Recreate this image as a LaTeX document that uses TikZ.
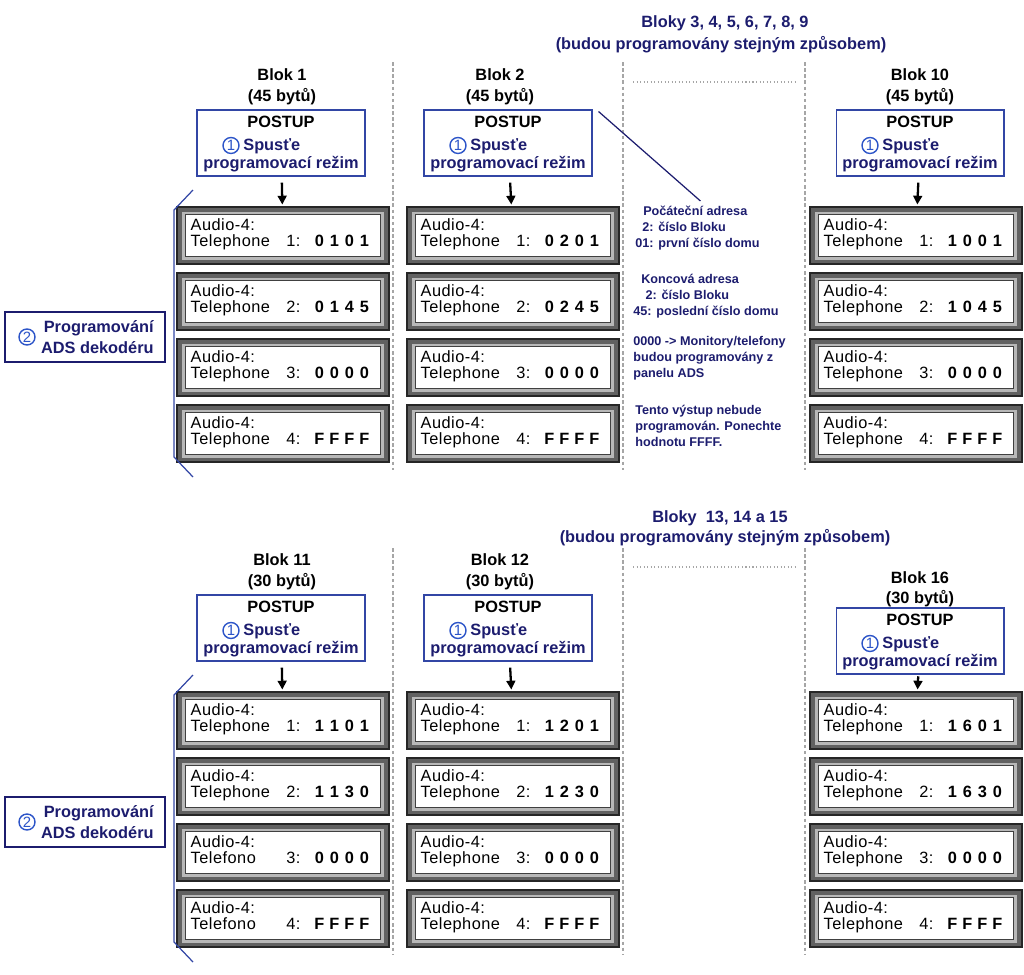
\documentclass[tikz,border=0pt]{standalone}
\usepackage{fontspec}
\setmainfont{Liberation Sans}
\usetikzlibrary{arrows.meta}

\definecolor{ink}{RGB}{28,28,110}
\definecolor{frame}{RGB}{50,70,165}
\definecolor{ring}{RGB}{45,85,200}

\tikzset{
  lcd/.style={draw=black!85, fill=black!62, line width=0.8pt, minimum width=4.24cm, minimum height=1.14cm, inner sep=0pt},
  lcdmid/.style={fill=black!28, minimum width=4.04cm, minimum height=0.96cm, inner sep=0pt},
  lcdin/.style={draw=black!75, fill=white, line width=0.7pt, minimum width=3.9cm, minimum height=0.84cm, inner sep=0pt},
  lcdtxt/.style={inner sep=0pt, font=\fontsize{9.3}{11}\selectfont\addfontfeature{LetterSpace=3}},
  lcdnum/.style={inner sep=0pt, font=\fontsize{9.3}{11}\selectfont\bfseries},
  postup/.style={draw=frame, line width=0.6pt, minimum width=3.36cm, minimum height=1.32cm, inner sep=0pt},
  head/.style={inner sep=0pt, font=\fontsize{9.3}{11}\selectfont\bfseries},
  title/.style={head, text=ink},
  ring/.style={circle, draw=ring, line width=0.8pt, text=ring, minimum size=0.32cm, inner sep=0pt, font=\fontsize{8.5}{9}\selectfont},
  note/.style={inner sep=0pt, text=ink, align=left, font=\fontsize{7.2}{9.1}\selectfont\bfseries},
  arr/.style={-{Triangle[length=5pt,width=5pt]}, line width=1.3pt},
  sep/.style={gray!70, dash pattern=on 2pt off 1.5pt, line width=0.6pt},
  dots/.style={gray!70, dash pattern=on 0.6pt off 1.4pt, line width=0.6pt},
  brace/.style={draw=frame, line width=0.7pt},
}

% display: name, x, top, label, number, four digits
\newcommand{\lcd}[9]{%
  \node[lcd] (#1) at (#2,#3+28.5) {};
  \node[lcdmid] at (#1.center) {};
  \node[lcdin] at (#1.center) {};
  \node[lcdtxt, anchor=base west] at ([shift={(14,24)}]#1.north west) {Audio-4:};
  \node[lcdtxt, anchor=base west] at ([shift={(14,40)}]#1.north west) {#4};
  \node[lcdtxt, anchor=base] at ([shift={(117,40)}]#1.north west) {#5:};
  \node[lcdnum, anchor=base] at ([shift={(143,40)}]#1.north west) {#6};
  \node[lcdnum, anchor=base] at ([shift={(158,40)}]#1.north west) {#7};
  \node[lcdnum, anchor=base] at ([shift={(173,40)}]#1.north west) {#8};
  \node[lcdnum, anchor=base] at ([shift={(188,40)}]#1.north west) {#9};
}

% POSTUP box: name, x, top
\newcommand{\postupbox}[3]{%
  \node[postup] (#1) at (#2,#3+33) {};
  \node[head, anchor=base] at ([shift={(0,18)}]#1.north) {POSTUP};
  \node[ring] at ([shift={(-50,36)}]#1.north) {1};
  \node[head, text=ink, anchor=base west] at ([shift={(-38,41)}]#1.north) {Spusťe};
  \node[head, text=ink, anchor=base] at ([shift={(0,59)}]#1.north) {programovací režim};
}

% step 2 box: name, top
\newcommand{\progbox}[2]{%
  \node[draw=ink, line width=0.6pt, minimum width=3.2cm, minimum height=1cm, inner sep=0pt] (#1) at (85,#2+25) {};
  \node[ring] at (27,#2+25) {2};
  \node[head, text=ink, align=right, anchor=east, font=\fontsize{9.3}{12}\selectfont\bfseries] at (154,#2+25) {Programování\\ADS dekodéru};
}

\begin{document}
\begin{tikzpicture}[x=0.02cm, y=-0.02cm]
\useasboundingbox (0,0) rectangle (1024,974);

% ---- upper half: blocks 1 to 10
\node[title] (t1) at (725,23) {Bloky 3, 4, 5, 6, 7, 8, 9};
\node[title] (t2) at (721,45) {(budou programovány stejným způsobem)};

\node[head] (b1) at (282,75) {Blok 1};
\node[head] (b1s) at (282,97) {(45 bytů)};
\node[head] (b2) at (500,75) {Blok 2};
\node[head] (b2s) at (500,97) {(45 bytů)};
\node[head] (b10) at (920,75) {Blok 10};
\node[head] (b10s) at (920,97) {(45 bytů)};

\postupbox{p1}{281}{110}
\postupbox{p2}{508}{110}
\postupbox{p10}{920}{110}

\lcd{d1a}{283}{207}{Telephone}{1}{0}{1}{0}{1}
\lcd{d1b}{283}{273}{Telephone}{2}{0}{1}{4}{5}
\lcd{d1c}{283}{339}{Telephone}{3}{0}{0}{0}{0}
\lcd{d1d}{283}{405}{Telephone}{4}{F}{F}{F}{F}

\lcd{d2a}{513}{207}{Telephone}{1}{0}{2}{0}{1}
\lcd{d2b}{513}{273}{Telephone}{2}{0}{2}{4}{5}
\lcd{d2c}{513}{339}{Telephone}{3}{0}{0}{0}{0}
\lcd{d2d}{513}{405}{Telephone}{4}{F}{F}{F}{F}

\lcd{d10a}{916}{207}{Telephone}{1}{1}{0}{0}{1}
\lcd{d10b}{916}{273}{Telephone}{2}{1}{0}{4}{5}
\lcd{d10c}{916}{339}{Telephone}{3}{0}{0}{0}{0}
\lcd{d10d}{916}{405}{Telephone}{4}{F}{F}{F}{F}

\draw[arr, shorten <=3.5pt, shorten >=1pt] (p1) -- (d1a);
\draw[arr, shorten <=3.5pt, shorten >=1pt] (p2) -- (d2a);
\draw[arr, shorten <=3.5pt, shorten >=1pt] (p10) -- (d10a);

\draw[sep] (393,62) -- (393,470);
\draw[sep] (623,62) -- (623,470);
\draw[sep] (805,62) -- (805,470);
\draw[dots] (633,82) -- (795,82);

\draw[brace] (193,190) -- (174,210) -- (174,457) -- (193,477);
\progbox{s1}{312}

% notes on the address fields
\node[note, anchor=north west] (n1) at (635,206) {\hspace*{4.5pt}Počáteční adresa\\\hspace*{4pt}2: číslo Bloku\\01: první číslo domu};
\node[note, anchor=north west] (n2) at (633,274) {\hspace*{4.5pt}Koncová adresa\\\hspace*{7pt}2: číslo Bloku\\45: poslední číslo domu};
\node[note, anchor=north west] (n3) at (633,336) {0000 -> Monitory/telefony\\budou programovány z\\panelu ADS};
\node[note, anchor=north west] (n4) at (635,405) {Tento výstup nebude\\programován. Ponechte\\hodnotu FFFF.};
\draw[ink, line width=0.7pt] ([shift={(6,2)}]p2.north east) -- ([shift={(3,-5)}]n1.north);

% ---- lower half: blocks 11 to 16
\node[title] (t3) at (720,518) {Bloky\ \ 13, 14 a 15};
\node[title] (t4) at (725,538) {(budou programovány stejným způsobem)};

\node[head] (b11) at (282,560) {Blok 11};
\node[head] (b11s) at (282,582) {(30 bytů)};
\node[head] (b12) at (500,560) {Blok 12};
\node[head] (b12s) at (500,582) {(30 bytů)};
\node[head] (b16) at (920,578) {Blok 16};
\node[head] (b16s) at (920,599) {(30 bytů)};

\postupbox{p11}{281}{595}
\postupbox{p12}{508}{595}
\postupbox{p16}{920}{608}

\lcd{d11a}{283}{692}{Telephone}{1}{1}{1}{0}{1}
\lcd{d11b}{283}{758}{Telephone}{2}{1}{1}{3}{0}
\lcd{d11c}{283}{824}{Telefono}{3}{0}{0}{0}{0}
\lcd{d11d}{283}{890}{Telefono}{4}{F}{F}{F}{F}

\lcd{d12a}{513}{692}{Telephone}{1}{1}{2}{0}{1}
\lcd{d12b}{513}{758}{Telephone}{2}{1}{2}{3}{0}
\lcd{d12c}{513}{824}{Telephone}{3}{0}{0}{0}{0}
\lcd{d12d}{513}{890}{Telephone}{4}{F}{F}{F}{F}

\lcd{d16a}{916}{692}{Telephone}{1}{1}{6}{0}{1}
\lcd{d16b}{916}{758}{Telephone}{2}{1}{6}{3}{0}
\lcd{d16c}{916}{824}{Telephone}{3}{0}{0}{0}{0}
\lcd{d16d}{916}{890}{Telephone}{4}{F}{F}{F}{F}

\draw[arr, shorten <=3.5pt, shorten >=1pt] (p11) -- (d11a);
\draw[arr, shorten <=3.5pt, shorten >=1pt] (p12) -- (d12a);
\draw[arr, shorten <=1pt, shorten >=1pt] (p16) -- (d16a);

\draw[sep] (393,548) -- (393,955);
\draw[sep] (623,548) -- (623,955);
\draw[sep] (805,548) -- (805,955);
\draw[dots] (633,567) -- (795,567);

\draw[brace] (193,675) -- (174,695) -- (174,942) -- (193,962);
\progbox{s11}{797}
\end{tikzpicture}
\end{document}
